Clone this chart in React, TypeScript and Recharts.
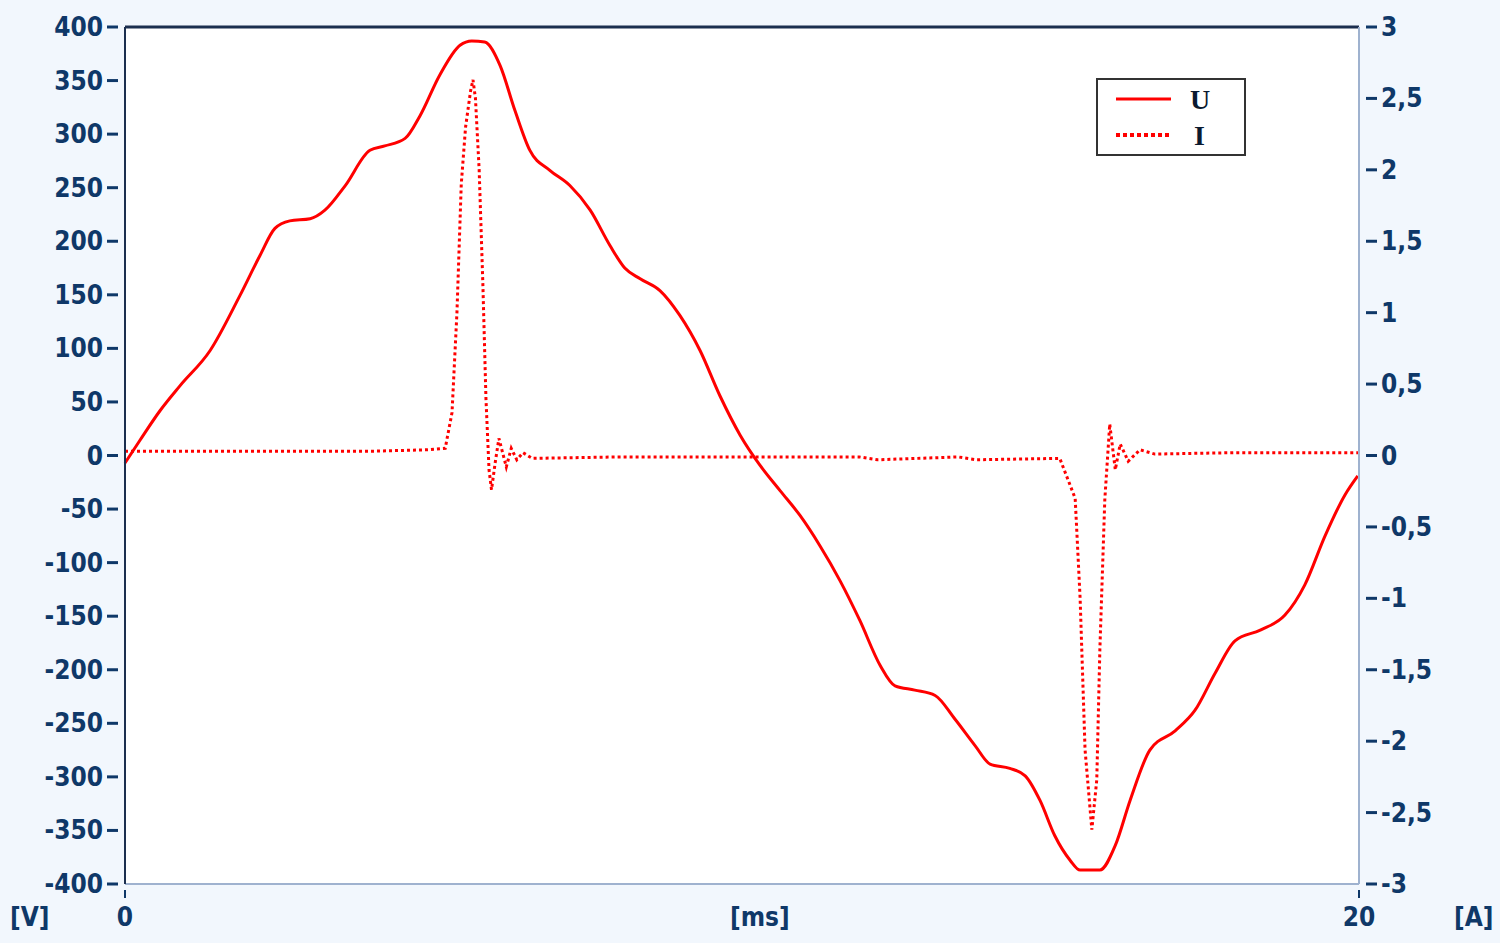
import React from 'react'
import { LineChart, Line, XAxis, YAxis, CartesianGrid, ReferenceLine } from 'recharts'

// U(t) – voltage [V]
const uTime = [
  0, 0.24, 0.57, 0.89, 1.38, 1.86, 2.19, 2.43, 2.67, 3.0, 3.24, 3.57, 3.97, 4.21, 4.54, 4.78, 5.1, 5.43,
  5.62, 5.83, 6.08, 6.32, 6.56, 6.89, 7.21, 7.54, 7.86, 8.1, 8.35, 8.67, 8.99, 9.32, 9.64, 9.97, 10.29,
  10.62, 10.94, 11.26, 11.59, 11.91, 12.24, 12.48, 12.8, 13.13, 13.45, 13.78, 14.02, 14.34, 14.59, 14.83,
  15.07, 15.32, 15.48, 15.8, 16.05, 16.29, 16.61, 17.02, 17.34, 17.67, 17.99, 18.4, 18.8, 19.12, 19.45,
  19.77, 19.98,
]
const uValues = [
  -7, 14, 42, 65, 98, 149, 187, 212, 219, 221, 229, 252, 285, 289, 296, 317, 355, 383, 387, 386, 364, 322,
  285, 266, 252, 229, 196, 175, 165, 154, 131, 98, 56, 19, -9, -33, -56, -84, -117, -154, -196, -215, -219,
  -224, -246, -271, -288, -292, -299, -322, -355, -378, -387, -387, -364, -322, -275, -257, -238, -203,
  -173, -163, -149, -121, -75, -37, -19,
]

// I(t) – current [A]
const iTime = [
  0, 2, 4, 4.9, 5.19, 5.3, 5.38, 5.45, 5.52, 5.6, 5.64, 5.68, 5.74, 5.8, 5.85, 5.9, 5.94, 6.0, 6.06, 6.12,
  6.18, 6.26, 6.35, 6.45, 6.6, 8, 10, 11.9, 12.2, 13.5, 13.8, 15.15, 15.4, 15.48, 15.56, 15.67, 15.75,
  15.8, 15.88, 15.96, 16.05, 16.13, 16.26, 16.45, 16.69, 18, 20,
]
const iValues = [
  0.03, 0.03, 0.03, 0.04, 0.05, 0.3, 1.0, 1.9, 2.3, 2.55, 2.63, 2.5, 2.0, 1.2, 0.4, -0.1, -0.24, -0.05,
  0.12, 0.02, -0.08, 0.05, -0.03, 0.02, -0.02, -0.01, -0.01, -0.01, -0.03, -0.01, -0.03, -0.02, -0.3,
  -1.0, -2.06, -2.62, -2.27, -1.36, -0.31, 0.22, -0.1, 0.08, -0.04, 0.04, 0.01, 0.02, 0.02,
]

const vTicks = [400, 350, 300, 250, 200, 150, 100, 50, 0, -50, -100, -150, -200, -250, -300, -350, -400]
const aTicks = [3, 2.5, 2, 1.5, 1, 0.5, 0, -0.5, -1, -1.5, -2, -2.5, -3]
const msTicks = [0, 20]

const uData = uTime.map((t, i) => ({ t, u: uValues[i] }))
const iData = iTime.map((t, i) => ({ t, i: iValues[i] }))

const TEXT = '#0f3868'
const FONT = '"DejaVu Sans Condensed", "DejaVu Sans", sans-serif'

const LeftTick = (props: any) => {
  const { x, y, payload } = props
  return (
    <g>
      <line x1={x - 16} x2={x - 5} y1={y} y2={y} stroke={TEXT} strokeWidth={3} />
      <text x={x - 20} y={y} dy={9} textAnchor="end" fill={TEXT} fontSize={26} fontWeight="bold" fontFamily={FONT}>
        {payload.value}
      </text>
    </g>
  )
}

const RightTick = (props: any) => {
  const { x, y, payload } = props
  return (
    <g>
      <line x1={x + 5} x2={x + 16} y1={y} y2={y} stroke={TEXT} strokeWidth={3} />
      <text x={x + 20} y={y} dy={9} textAnchor="start" fill={TEXT} fontSize={26} fontWeight="bold" fontFamily={FONT}>
        {String(payload.value).replace('.', ',')}
      </text>
    </g>
  )
}

const BottomTick = (props: any) => {
  const { x, y, payload } = props
  return (
    <g>
      <line x1={x} x2={x} y1={y + 4} y2={y + 12} stroke={TEXT} strokeWidth={2} />
      <text x={x} y={y + 40} textAnchor="middle" fill={TEXT} fontSize={26} fontWeight="bold" fontFamily={FONT}>
        {payload.value}
      </text>
    </g>
  )
}

const LegendBox = () => (
  <div
    style={{
      position: 'absolute',
      left: 1096,
      top: 78,
      width: 150,
      height: 78,
      border: '2px solid #333',
      background: '#fff',
      boxSizing: 'border-box',
    }}
  >
    <svg width={146} height={74} style={{ display: 'block' }}>
      <line x1={18} x2={73} y1={19} y2={19} stroke="#ff0000" strokeWidth={3} />
      <text x={92} y={29} fontFamily='"Liberation Serif", serif' fontWeight="bold" fontSize={28} fill="#0a1a30">
        U
      </text>
      <line x1={18} x2={73} y1={55} y2={55} stroke="#ff0000" strokeWidth={4} strokeDasharray="4 3" />
      <text x={96} y={65} fontFamily='"Liberation Serif", serif' fontWeight="bold" fontSize={28} fill="#0a1a30">
        I
      </text>
    </svg>
  </div>
)

const unitStyle: React.CSSProperties = {
  position: 'absolute',
  color: TEXT,
  fontFamily: FONT,
  fontWeight: 'bold',
  fontSize: 26,
  lineHeight: '26px',
}

export default function App() {
  return (
    <div style={{ position: 'fixed', left: 0, top: 0, width: 1500, height: 943, background: '#f2f7fd' }}>
      <LineChart width={1500} height={943} margin={{ top: 27, right: 0, bottom: 0, left: 0 }}>
        <CartesianGrid fill="#ffffff" horizontal={false} vertical={false} yAxisId="v" />
        <XAxis
          dataKey="t"
          type="number"
          domain={[0, 20]}
          ticks={msTicks}
          height={59}
          tickLine={false}
          tickSize={0}
          axisLine={{ stroke: '#9fb2cf', strokeWidth: 2 }}
          tick={<BottomTick />}
          allowDuplicatedCategory={false}
        />
        <YAxis
          yAxisId="v"
          orientation="left"
          type="number"
          domain={[-400, 400]}
          ticks={vTicks}
          width={125}
          tickSize={0}
          tickLine={false}
          axisLine={{ stroke: '#1c2f4f', strokeWidth: 2 }}
          tick={<LeftTick />}
          interval={0}
        />
        <YAxis
          yAxisId="a"
          orientation="right"
          type="number"
          domain={[-3, 3]}
          ticks={aTicks}
          width={141}
          tickSize={0}
          tickLine={false}
          axisLine={{ stroke: '#9fb2cf', strokeWidth: 2 }}
          tick={<RightTick />}
          interval={0}
        />
        <ReferenceLine yAxisId="v" y={400} stroke="#1c2f4f" strokeWidth={3} />
        <Line
          yAxisId="v"
          data={uData}
          dataKey="u"
          name="U"
          type="monotone"
          stroke="#ff0000"
          strokeWidth={3}
          dot={false}
          isAnimationActive={false}
        />
        <Line
          yAxisId="a"
          data={iData}
          dataKey="i"
          name="I"
          type="linear"
          stroke="#ff0000"
          strokeWidth={3}
          strokeDasharray="3 3"
          dot={false}
          isAnimationActive={false}
        />
      </LineChart>
      <LegendBox />
      <div style={{ ...unitStyle, left: 10, top: 904 }}>[V]</div>
      <div style={{ ...unitStyle, left: 730, top: 904 }}>[ms]</div>
      <div style={{ ...unitStyle, left: 1454, top: 904 }}>[A]</div>
    </div>
  )
}
